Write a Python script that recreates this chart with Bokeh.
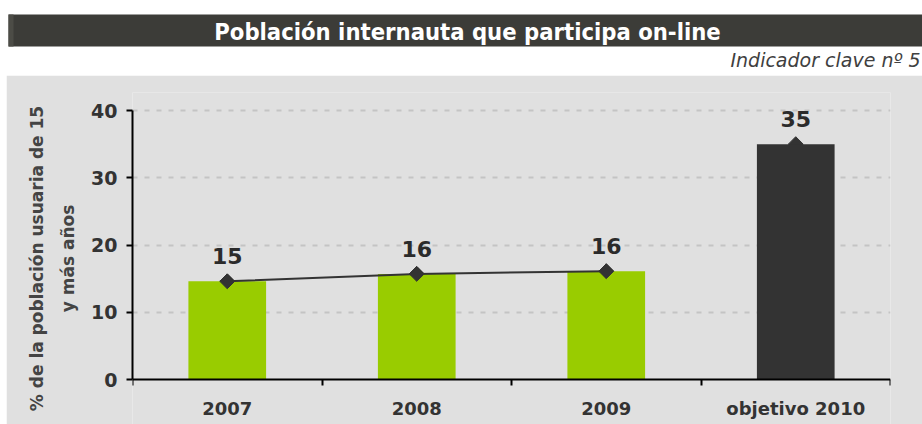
import math
from bokeh.plotting import figure
from bokeh.models import Range1d, FixedTicker, Column, Row, Spacer
from bokeh.core.properties import value
from bokeh.embed import file_html
from bokeh.resources import INLINE

categories = ["2007", "2008", "2009", "objetivo 2010"]
values = [14.6, 15.7, 16.1, 35.0]
value_labels = ["15", "16", "16", "35"]
bar_colors = ["#99cc00", "#99cc00", "#99cc00", "#333333"]
y_ticks = [0, 10, 20, 30, 40]
title_text = "Población internauta que participa on-line"
subtitle_text = "Indicador clave nº 5"
y_label = "% de la población usuaria de 15\ny más años"

FONT = "DejaVu Sans"
GRAY = "#e0e0e0"
W = 922
HEAD_H = 75
BODY_H = 424 - HEAD_H
PAD_L = 6

xs = [i + 0.5 for i in range(len(categories))]
n_hist = 3  # observed years joined by the line

# ---- header (frame covers the whole canvas; coordinates are pixels) ----
head = figure(width=W, height=HEAD_H, output_backend="svg",
              toolbar_location=None, x_range=Range1d(0, W),
              y_range=Range1d(HEAD_H, 0), min_border=0,
              background_fill_color="white", border_fill_color="white",
              outline_line_color=None)
head.axis.visible = False
head.grid.visible = False
head.quad(left=8, right=W, top=14, bottom=46, color="#3c3c38", line_color=None)
head.quad(left=8, right=13, top=14, bottom=46, color="#4c4c46", line_color=None)
head.text(x=[467], y=[31], text=[title_text], text_align="center",
          text_baseline="middle", text_font=value("DejaVu Sans Condensed"),
          text_font_style="bold", text_font_size="23.6px", text_color="white")
head.text(x=[920], y=[59], text=[subtitle_text], text_align="right",
          text_baseline="middle", text_font=value(FONT),
          text_font_style="italic", text_font_size="19px",
          text_color="#404040")

# ---- main chart ----
PX_PER_UNIT = 6.725
p = figure(width=W - PAD_L, height=BODY_H, output_backend="svg",
           toolbar_location=None,
           x_range=Range1d(0, len(categories)),
           y_range=Range1d(-45 / PX_PER_UNIT, 40 + 18 / PX_PER_UNIT),
           min_border_left=132 - PAD_L, min_border_right=32,
           min_border_top=17, min_border_bottom=0,
           background_fill_color=GRAY, border_fill_color=GRAY,
           outline_line_color=None)

p.xgrid.visible = False
p.ygrid.ticker = FixedTicker(ticks=y_ticks[1:])
p.ygrid.grid_line_color = "#c4c4c4"
p.ygrid.grid_line_dash = "5 7"
p.ygrid.grid_line_width = 2

p.yaxis.ticker = FixedTicker(ticks=y_ticks)
p.yaxis.bounds = (y_ticks[0], y_ticks[-1])
p.yaxis.axis_line_width = 2
p.yaxis.axis_line_color = "black"
p.yaxis.major_tick_out = 6
p.yaxis.major_tick_in = 0
p.yaxis.major_tick_line_width = 2
p.yaxis.minor_tick_line_color = None
p.yaxis.major_label_text_font = FONT
p.yaxis.major_label_text_font_style = "bold"
p.yaxis.major_label_text_font_size = "19px"
p.yaxis.major_label_text_color = "#333333"
p.yaxis.major_label_standoff = 9
p.yaxis.axis_label = y_label
p.yaxis.axis_label_text_font = FONT
p.yaxis.axis_label_text_font_style = "bold"
p.yaxis.axis_label_text_font_size = "17px"
p.yaxis.axis_label_text_color = "#444444"
p.yaxis.axis_label_text_line_height = 1.55
p.yaxis.axis_label_standoff = 10

p.xaxis.fixed_location = 0
p.xaxis.ticker = FixedTicker(ticks=xs,
                             minor_ticks=list(range(len(categories) + 1)))
p.xaxis.major_label_overrides = {x: c for x, c in zip(xs, categories)}
p.xaxis.axis_line_width = 2
p.xaxis.axis_line_color = "black"
p.xaxis.major_tick_line_color = None
p.xaxis.major_tick_out = 0
p.xaxis.major_tick_in = 0
p.xaxis.minor_tick_out = 6
p.xaxis.minor_tick_in = 0
p.xaxis.minor_tick_line_width = 2
p.xaxis.minor_tick_line_color = "black"
p.xaxis.major_label_text_font = FONT
p.xaxis.major_label_text_font_style = "bold"
p.xaxis.major_label_text_font_size = "18px"
p.xaxis.major_label_text_color = "#333333"
p.xaxis.major_label_standoff = 12

# markers (the target's marker sits behind its bar)
p.scatter(xs, values, marker="square", angle=math.pi / 4, size=10.5,
          color="#333333")
p.vbar(x=xs, top=values, width=0.41, color=bar_colors, line_color=None)
p.line(xs[:n_hist], values[:n_hist], line_color="#333333", line_width=2)
p.scatter(xs[:n_hist], values[:n_hist], marker="square", angle=math.pi / 4,
          size=10.5, color="#333333")
p.text(xs, values, text=value_labels, y_offset=-25, text_align="center",
       text_baseline="middle", text_font=value(FONT), text_font_style="bold",
       text_font_size="22px", text_color="#2b2b2b")

layout = Column(children=[head,
                          Row(children=[Spacer(width=PAD_L, height=BODY_H), p],
                              spacing=0)],
                spacing=0)
open("out.html", "w").write(file_html(layout, INLINE))
